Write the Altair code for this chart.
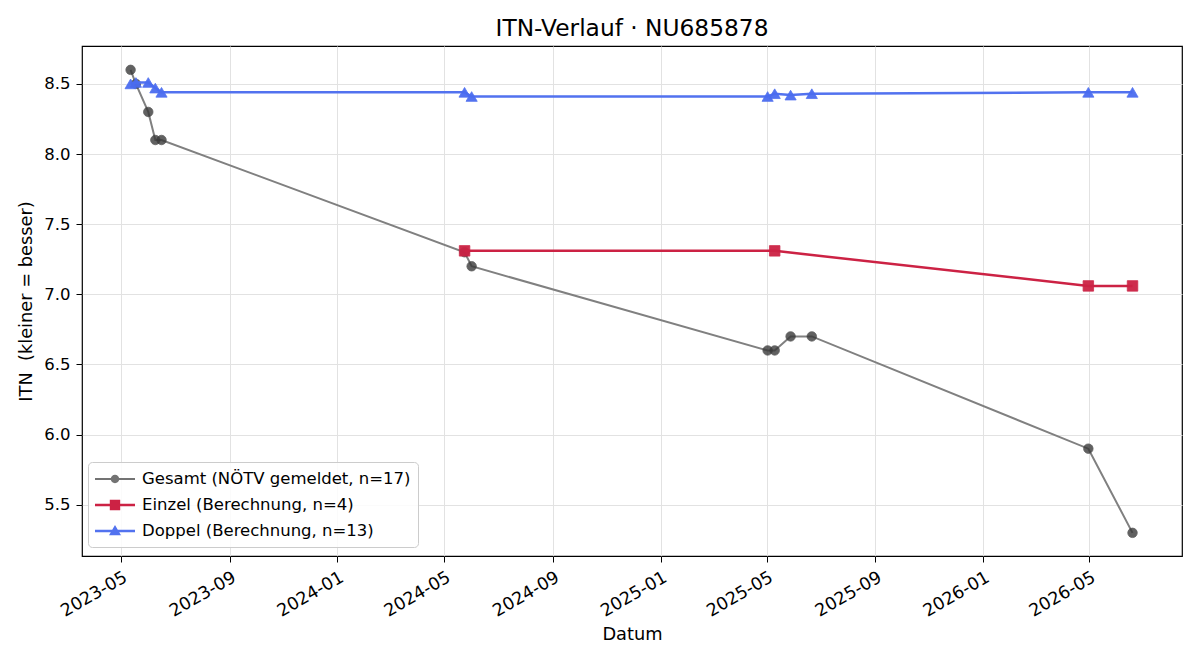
import altair as alt
import pandas as pd

# ---- data ----
dates = ["2023-05-12", "2023-05-18", "2023-06-01", "2023-06-09", "2023-06-16",
         "2024-05-24", "2024-06-01", "2025-05-02", "2025-05-10", "2025-05-28",
         "2025-06-21", "2026-04-30", "2026-06-19"]
gesamt_itn = [8.6, 8.5, 8.3, 8.1, 8.1, 7.3, 7.2, 6.6, 6.6, 6.7, 6.7, 5.9, 5.3]

einzel_dates = ["2024-05-24", "2025-05-10", "2026-04-30", "2026-06-19"]
einzel_itn = [7.31, 7.31, 7.06, 7.06]

doppel_dates = dates
doppel_itn = [8.50, 8.51, 8.51, 8.47, 8.44, 8.44, 8.41, 8.41, 8.43, 8.42, 8.43, 8.44, 8.44]

series_names = ["Gesamt (NÖTV gemeldet, n=17)",
                "Einzel (Berechnung, n=4)",
                "Doppel (Berechnung, n=13)"]
line_colors = ["#808080", "#cc2244", "#5272ef"]
marker_colors = ["#3a3a3a", "#cc2244", "#4a6cf0"]
legend_colors = ["#737373", "#cc2244", "#5272ef"]

tick_months = ["2023-05", "2023-09", "2024-01", "2024-05", "2024-09",
               "2025-01", "2025-05", "2025-09", "2026-01", "2026-05"]
y_ticks = [5.5, 6.0, 6.5, 7.0, 7.5, 8.0, 8.5]

FONT = "DejaVu Sans"

rows = []
for name, ds, vs in [(series_names[0], dates, gesamt_itn),
                     (series_names[1], einzel_dates, einzel_itn),
                     (series_names[2], doppel_dates, doppel_itn)]:
    for d, v in zip(ds, vs):
        rows.append({"serie": name, "datum": d + "T00:00:00", "itn": v})
df = pd.DataFrame(rows)

x_enc = alt.X(
    "datum:T",
    title="Datum",
    scale=alt.Scale(domain=[alt.DateTime(year=2023, month=3, date=18),
                            alt.DateTime(year=2026, month=8, date=14)]),
    axis=alt.Axis(
        values=[alt.DateTime(year=int(m[:4]), month=int(m[5:]), date=1) for m in tick_months],
        format="%Y-%m", labelAngle=-30, labelAlign="right", labelBaseline="top",
        labelPadding=6, labelFontSize=17.5, titlePadding=6,
    ),
)
y_enc = alt.Y(
    "itn:Q",
    title="ITN \u00a0(kleiner = besser)",
    scale=alt.Scale(domain=[5.135, 8.77], nice=False, zero=False),
    axis=alt.Axis(values=y_ticks, format=".1f", labelPadding=6, titlePadding=8),
)

base = alt.Chart(df).encode(x=x_enc, y=y_enc)

layers = []
styles = [
    dict(width=2.0, shape="circle", size=90, opacity=0.8),
    dict(width=2.5, shape="square", size=110, opacity=0.95),
    dict(width=2.5, shape="triangle-up", size=125, opacity=0.95),
]
for name, lc, mc, st in zip(series_names, line_colors, marker_colors, styles):
    sub = base.transform_filter(alt.datum.serie == name)
    layers.append(sub.mark_line(color=lc, strokeWidth=st["width"]))
    layers.append(sub.mark_point(filled=True, shape=st["shape"], size=st["size"],
                                 fill=mc, stroke=mc, strokeWidth=0.8,
                                 opacity=st["opacity"]))

legend_paths = [
    "M-2,-0.11L2,-0.11L2,0.11L-2,0.11Z M0.42,0A0.42,0.42 0 1,1 -0.42,0A0.42,0.42 0 1,1 0.42,0Z",
    "M-2,-0.12L2,-0.12L2,0.12L-2,0.12Z M-0.52,-0.52L0.52,-0.52L0.52,0.52L-0.52,0.52Z",
    "M-2,-0.12L2,-0.12L2,0.12L-2,0.12Z M0,-0.6L0.6,0.42L-0.6,0.42Z",
]

leg = alt.Legend(
    title=None, orient="none", legendX=6, legendY=416, direction="vertical",
    labelFont=FONT, labelFontSize=16.5, labelColor="#000000", labelLimit=500,
    symbolSize=400, symbolStrokeWidth=0, symbolOpacity=1,
    symbolOffset=10, labelOffset=17, rowPadding=7, padding=7,
    fillColor="rgba(255,255,255,0.85)", strokeColor="#cccccc", cornerRadius=4,
)
legend_layer = base.mark_point(filled=True, opacity=0).encode(
    color=alt.Color("serie:N", scale=alt.Scale(domain=series_names, range=legend_colors), legend=leg),
    shape=alt.Shape("serie:N", scale=alt.Scale(domain=series_names, range=legend_paths), legend=leg),
)
layers.append(legend_layer)

chart = alt.layer(*layers).properties(
    width=1100, height=510,
    title=alt.TitleParams("ITN-Verlauf · NU685878", font=FONT, fontSize=23.3,
                          fontWeight="normal", color="#000000", anchor="middle", offset=5),
    autosize=alt.AutoSizeParams(type="none"),
    padding={"left": 82, "top": 46, "right": 18, "bottom": 104},
    background="white",
).configure_view(
    stroke="#000000", strokeWidth=1.2
).configure_axis(
    domain=False, grid=True, gridColor="#e2e2e2", gridWidth=1,
    tickColor="#000000", tickSize=6, tickWidth=1,
    labelFont=FONT, labelFontSize=16.5, labelColor="#000000",
    titleFont=FONT, titleFontSize=17.8, titleFontWeight="normal", titleColor="#000000",
)

chart.save("out.html", embed_options={"renderer": "svg", "actions": False})
